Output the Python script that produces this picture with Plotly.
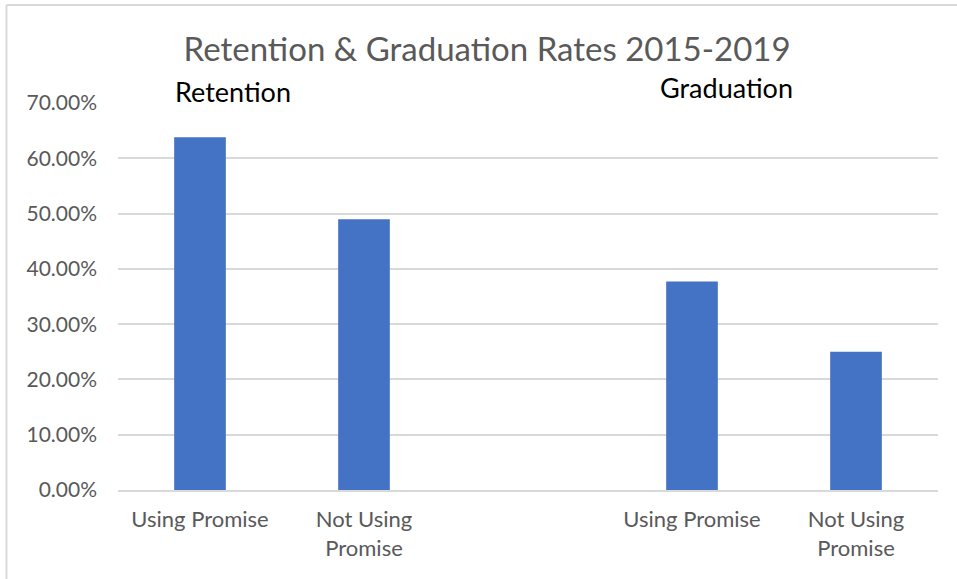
import plotly.graph_objects as go

# Chart data
group_names = ["Retention", "Graduation"]
category_labels = ["Using Promise", "Not Using<br>Promise", "Using Promise", "Not Using<br>Promise"]
category_slots = [0, 1, 3, 4]          # slot 2 is left empty to separate the groups
rates = [0.638, 0.490, 0.377, 0.250]
y_ticks = [0.0, 0.1, 0.2, 0.3, 0.4, 0.5, 0.6, 0.7]

BAR_COLOR = "#4472C4"
GRID_COLOR = "#D9D9D9"
TEXT_GRAY = "#595959"
FONT = "Lato"

fig = go.Figure(
    go.Bar(
        x=category_slots,
        y=rates,
        width=0.315,
        marker=dict(color=BAR_COLOR, line=dict(width=0)),
        hovertemplate="%{y:.2%}<extra></extra>",
    )
)

fig.update_layout(
    width=957,
    height=579,
    margin=dict(l=118, r=19, t=103, b=89),
    paper_bgcolor="white",
    plot_bgcolor="white",
    showlegend=False,
    font=dict(family=FONT, color=TEXT_GRAY),
    title=dict(
        text="Retention & Graduation Rates 2015-2019",
        x=0.509,
        xanchor="center",
        y=0.914,
        yanchor="middle",
        font=dict(family=FONT, size=33, color=TEXT_GRAY),
    ),
    xaxis=dict(
        range=[-0.5, 4.5],
        tickvals=category_slots,
        ticktext=category_labels,
        tickfont=dict(family=FONT, size=22, color=TEXT_GRAY),
        showgrid=False,
        zeroline=False,
        showline=True,
        linecolor=GRID_COLOR,
        linewidth=1.5,
        ticks="",
        ticklabelstandoff=9,
        fixedrange=True,
    ),
    yaxis=dict(
        range=[0, 0.7001],
        tickvals=y_ticks,
        tickformat=".2%",
        tickfont=dict(family=FONT, size=21, color=TEXT_GRAY),
        showgrid=True,
        gridcolor=GRID_COLOR,
        gridwidth=1.5,
        zeroline=False,
        showline=False,
        ticks="",
        ticklabelstandoff=20,
        fixedrange=True,
    ),
    annotations=[
        dict(
            text=group_names[0], x=0.067, xref="paper", xanchor="left",
            y=1.031, yref="paper", yanchor="middle", showarrow=False,
            font=dict(family=FONT, size=27, color="#000000"),
        ),
        dict(
            text=group_names[1], x=0.659, xref="paper", xanchor="left",
            y=1.039, yref="paper", yanchor="middle", showarrow=False,
            font=dict(family=FONT, size=27, color="#000000"),
        ),
    ],
    shapes=[
        # chart frame: top and left edges
        dict(type="line", xref="paper", yref="paper",
             x0=-0.136, x1=1.03, y0=1.253, y1=1.253,
             line=dict(color=GRID_COLOR, width=2)),
        dict(type="line", xref="paper", yref="paper",
             x0=-0.136, x1=-0.136, y0=1.253, y1=-0.24,
             line=dict(color=GRID_COLOR, width=2)),
    ],
)

fig.write_html("out.html")
